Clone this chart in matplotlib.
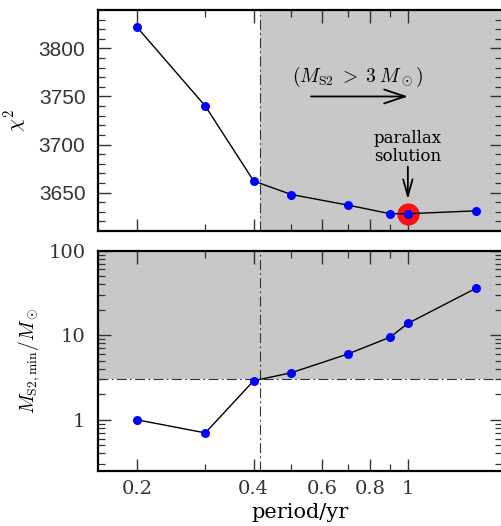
import numpy as np
import matplotlib
matplotlib.use('Agg')
import matplotlib.pyplot as plt
from matplotlib.ticker import FixedLocator, FixedFormatter, NullFormatter, LogLocator

# ── DATA ───────────────────────────────────────────────────────────────────
period = [0.2, 0.3, 0.4, 0.5, 0.7, 0.9, 1.0, 1.5]
chi2   = [3822, 3740, 3662, 3648, 3637, 3628, 3628, 3631]
m_s2   = [1.0, 0.70, 2.9, 3.6, 6.0, 9.5, 13.8, 36.0]

P_CUT = 0.415     # period above which M_S2 > 3 Msun
M_CUT = 3.0
PARALLAX_P = 1.0
PARALLAX_CHI2 = 3628

SHADE = '#c8c8c8'
DASHDOT = (0, (9, 3, 1.5, 3))

# ── STYLE ──────────────────────────────────────────────────────────────────
plt.rcParams.update({
    'font.family': 'serif',
    'font.serif': ['DejaVu Serif'],
    'mathtext.fontset': 'cm',
    'xtick.direction': 'in',
    'ytick.direction': 'in',
    'xtick.top': True,
    'ytick.right': True,
    'axes.linewidth': 1.6,
})

fig = plt.figure(figsize=(5.02, 5.26), dpi=100)
ax1 = fig.add_axes([0.1952, 0.5608, 0.8048, 0.4202])
ax2 = fig.add_axes([0.1952, 0.1051, 0.8048, 0.4183])

XLIM = (0.1585, 1.75)
major_x = [0.2, 0.4, 0.6, 0.8, 1.0]
minor_x = [0.3, 0.5, 0.7, 0.9]

for ax in (ax1, ax2):
    ax.set_xscale('log')
    ax.set_xlim(*XLIM)
    ax.xaxis.set_major_locator(FixedLocator(major_x))
    ax.xaxis.set_minor_locator(FixedLocator(minor_x))
    ax.xaxis.set_minor_formatter(NullFormatter())
    ax.tick_params(which='major', length=9, width=1.0, colors='#333333')
    ax.tick_params(which='minor', length=5, width=0.9, colors='#333333')
    ax.tick_params(axis='y', which='major', pad=9)
    ax.spines['right'].set_visible(False)

# ── TOP · chi^2 ────────────────────────────────────────────────────────────
ax1.axvspan(P_CUT, XLIM[1], color=SHADE, lw=0, zorder=0)
ax1.axvline(P_CUT, color='#333333', lw=0.8, ls=DASHDOT, zorder=1)
ax1.plot([PARALLAX_P], [PARALLAX_CHI2], 'o', color='#ff1010', ms=16, mec='none', zorder=2)
ax1.plot(period, chi2, '-', color='black', lw=1.0, zorder=3)
ax1.plot(period, chi2, 'o', color='#0000ff', ms=6.5, mec='none', zorder=4)

ax1.set_ylim(3610, 3840)
ax1.set_yticks([3650, 3700, 3750, 3800])
ax1.yaxis.set_minor_locator(FixedLocator(np.arange(3620, 3840, 10)))
ax1.xaxis.set_major_formatter(NullFormatter())
for lab in ax1.get_yticklabels():
    lab.set_family('Liberation Sans')
    lab.set_fontsize(15)
ax1.set_ylabel(r'$\chi^2$', fontsize=15)
ax1.yaxis.set_label_coords(-0.168, 0.5)

ax1.text(0.743, 3770, r'$(M_{\rm S2}\;>\;3\;M_\odot)$', fontsize=14,
         ha='center', va='center')
ax1.annotate('', xy=(1.0, 3750), xytext=(0.562, 3750),
             arrowprops=dict(arrowstyle='->,head_length=0.75,head_width=0.25',
                             lw=1.3, color='black', mutation_scale=20,
                             shrinkA=0, shrinkB=0))
ax1.text(1.0, 3697, 'parallax\nsolution', fontsize=12, ha='center',
         va='center', linespacing=1.1)
ax1.annotate('', xy=(1.0, 3643), xytext=(1.0, 3677),
             arrowprops=dict(arrowstyle='->,head_length=0.6,head_width=0.17',
                             lw=1.3, color='black', mutation_scale=20,
                             shrinkA=0, shrinkB=0))

# ── BOTTOM · M_S2,min ──────────────────────────────────────────────────────
ax2.set_yscale('log')
ax2.set_ylim(0.25, 100)
ax2.axhspan(M_CUT, 100, color=SHADE, lw=0, zorder=0)
ax2.axhline(M_CUT, color='#333333', lw=0.8, ls=DASHDOT, zorder=1)
ax2.axvline(P_CUT, color='#333333', lw=0.8, ls=DASHDOT, zorder=1)
ax2.plot(period, m_s2, '-', color='black', lw=1.0, zorder=3)
ax2.plot(period, m_s2, 'o', color='#0000ff', ms=6.5, mec='none', zorder=4)

ax2.yaxis.set_major_locator(FixedLocator([1, 10, 100]))
ax2.yaxis.set_major_formatter(FixedFormatter(['1', '10', '100']))
ax2.yaxis.set_minor_locator(LogLocator(base=10, subs=np.arange(2, 10)))
ax2.yaxis.set_minor_formatter(NullFormatter())
ax2.xaxis.set_major_formatter(FixedFormatter(['0.2', '0.4', '0.6', '0.8', '1']))
ax2.tick_params(labelsize=14)
ax2.tick_params(axis='x', pad=7)
ax2.set_ylabel(r'$M_{\rm S2,min}/M_\odot$', fontsize=14)
ax2.yaxis.set_label_coords(-0.139, 0.5)
ax2.set_xlabel('period/yr', fontsize=15, labelpad=3)

fig.savefig('out.png', dpi=100)
